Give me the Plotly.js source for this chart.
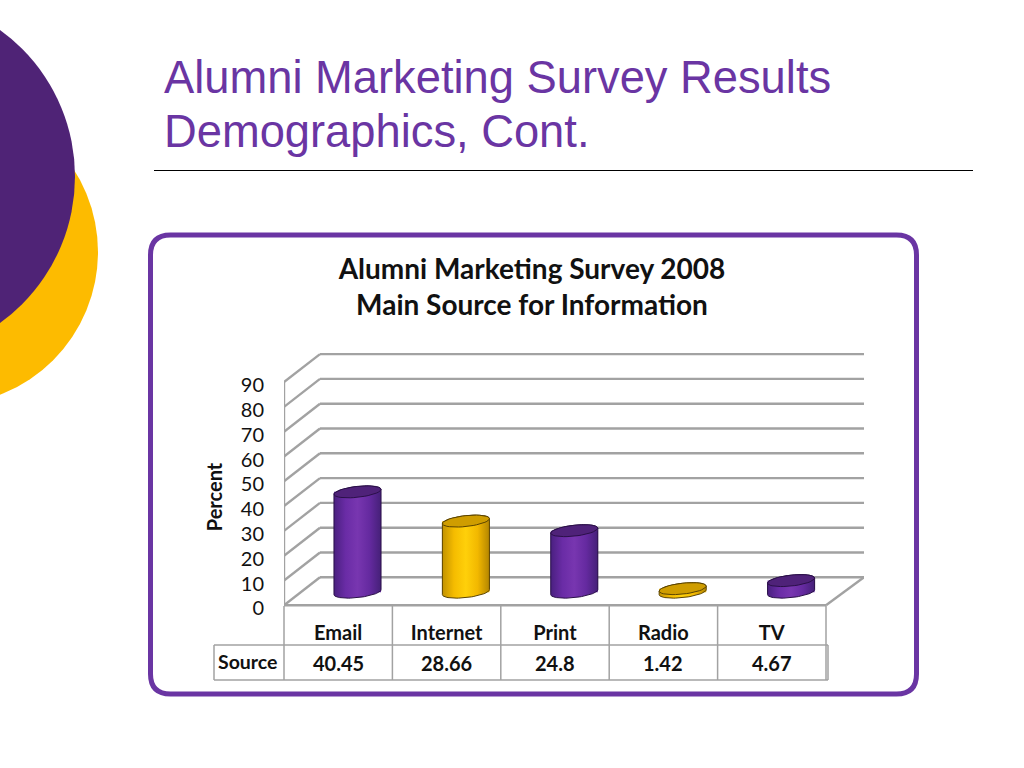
<!DOCTYPE html>
<html><head><meta charset="utf-8">
<script src="https://cdn.plot.ly/plotly-3.0.1.min.js"></script>
<style>html,body{margin:0;padding:0;background:#fff;overflow:hidden}#c{width:1024px;height:768px}</style>
</head><body><div id="c"></div>
<script>
const categories = ["Email","Internet","Print","Radio","TV"];
const values = [40.45,28.66,24.8,1.42,4.67];
const yTicks = [0,10,20,30,40,50,60,70,80,90];
const slideTitle = ["Alumni Marketing Survey Results","Demographics, Cont."];
const chartTitle = "Alumni Marketing Survey 2008<br>Main Source for Information";
const rowLabel = "Source";
const axisLabel = "Percent";

const W=1024,H=768, L=284,R=864,T=353,B=641,zeroY=605.3;
const colW=108.4, yScale=2.48;
const px=x=>(x-L)/(R-L), py=y=>(B-y)/(B-T);        // page pixel -> paper
const xMax=(R-L)/colW-0.5, yMax=(zeroY-T)/yScale, yMin=(zeroY-B)/yScale;
const depthX=36/colW, depthY=28/yScale;
const grey="#a2a2a2", violet="#6a35a3", chartFont="Lato, Carlito, sans-serif";
const barDx=0.178, barHalf=0.217, barBase=5.3, lidB=2.2, lidTilt=1.0;
const tone=["v","g","v","g","v"];
const body={v:[[0,"#4a2080"],[0.25,"#6a2ca6"],[0.5,"#7836b0"],[0.75,"#652aa0"],[1,"#452078"]],
            g:[[0,"#c29200"],[0.25,"#f5bc00"],[0.5,"#ffd00a"],[0.75,"#f2b800"],[1,"#b48600"]]};
const lid={v:"#4f2279",g:"#cf9d00"}, edge={v:"#2a1048",g:"#5a4300"}, flat={v:"#652aa0",g:"#f2b800"};

function arc(cx,cy,from,to){const xs=[],ys=[];for(let k=0;k<=40;k++){const t=from+(to-from)*k/40;
  xs.push(cx+barHalf*Math.cos(t));ys.push(cy+lidB*Math.sin(t)+lidTilt*Math.cos(t));}return [xs,ys];}

const traces=[{type:"bar",x:categories.map((_,i)=>i+barDx),y:values,base:barBase,width:barHalf*2,
  marker:{color:tone.map(t=>flat[t]),line:{width:0}},showlegend:false,hoverinfo:"skip",
  customdata:categories}];
values.forEach((v,i)=>{
  const cx=i+barDx,t=tone[i],top=barBase+v;
  const lower=arc(cx,barBase,Math.PI,2*Math.PI);
  const upper=arc(cx,top,0,Math.PI);
  traces.push({type:"scatter",mode:"lines",x:[...lower[0],...upper[0],lower[0][0]],y:[...lower[1],...upper[1],lower[1][0]],
    fill:"toself",fillgradient:{type:"horizontal",colorscale:body[t]},line:{color:edge[t],width:1},
    showlegend:false,hoverinfo:"skip"});
  const whole=arc(cx,top,0,2*Math.PI);
  traces.push({type:"scatter",mode:"lines",x:whole[0],y:whole[1],fill:"toself",fillcolor:lid[t],
    line:{color:edge[t],width:1},showlegend:false,hoverinfo:"skip"});
});

const line=(x0,y0,x1,y1,w)=>({type:"line",xref:"x",yref:"y",x0,y0,x1,y1,layer:"below",line:{color:grey,width:w||2.4}});
const pline=(x0,y0,x1,y1)=>({type:"line",xref:"paper",yref:"paper",x0:px(x0),y0:py(y0),x1:px(x1),y1:py(y1),line:{color:grey,width:1.5}});
const shapes=[];
// slide decoration
const circ=(cx,cy,r,c)=>({type:"circle",xref:"paper",yref:"paper",x0:px(cx-r),x1:px(cx+r),y0:py(cy+r),y1:py(cy-r),fillcolor:c,line:{width:0},layer:"below"});
shapes.push(circ(-55,252,153,"#fdbb00"),circ(-105.6,176.5,180.6,"#4f2376"));
shapes.push({type:"line",xref:"paper",yref:"paper",x0:px(154),x1:px(973),y0:py(170.5),y1:py(170.5),line:{color:"#000",width:1}});
const fx0=150.5,fx1=916.5,fy0=235,fy1=694,rr=20;
const P=(x,y)=>px(x)+","+py(y);
shapes.push({type:"path",xref:"paper",yref:"paper",layer:"below",line:{color:violet,width:5},
  path:`M${P(fx0+rr,fy0)} L${P(fx1-rr,fy0)} Q${P(fx1,fy0)} ${P(fx1,fy0+rr)} L${P(fx1,fy1-rr)} Q${P(fx1,fy1)} ${P(fx1-rr,fy1)} L${P(fx0+rr,fy1)} Q${P(fx0,fy1)} ${P(fx0,fy1-rr)} L${P(fx0,fy0+rr)} Q${P(fx0,fy0)} ${P(fx0+rr,fy0)} Z`});
// 3-D walls and floor
const x0=-0.5;
yTicks.forEach(v=>{
  shapes.push(line(x0+depthX,v+depthY,xMax,v+depthY));
  shapes.push(line(x0,v,x0+depthX,v+depthY));
});
shapes.push(line(x0,0,x0,90));
shapes.push(line(x0,0,4.5,0));
shapes.push(line(4.5,0,xMax,depthY));
// data table
for(let i=0;i<=5;i++){const x=L+colW*i;shapes.push(pline(x,606,x,680));}
shapes.push(pline(214,645,828,645),pline(214,680,828,680),pline(214,645,214,680),pline(828,645,828,680));

const annotations=[];
slideTitle.forEach((s,i)=>annotations.push({text:s,xref:"paper",yref:"paper",x:px(162),y:py(77+54*i),xanchor:"left",yanchor:"middle",showarrow:false,
  font:{family:"Liberation Sans, Arial, sans-serif",size:45.3,color:"#6a35a3"}}));
values.forEach((v,i)=>annotations.push({text:"<b>"+v+"</b>",xref:"x",yref:"paper",x:i,y:py(663),xanchor:"center",yanchor:"middle",showarrow:false,
  font:{family:chartFont,size:20,color:"#111"}}));
annotations.push({text:"<b>"+rowLabel+"</b>",xref:"paper",yref:"paper",x:px(247.5),y:py(661),xanchor:"center",yanchor:"middle",showarrow:false,
  font:{family:chartFont,size:19.5,color:"#111"}});

Plotly.newPlot("c",traces,{
  width:W,height:H,autosize:false,paper_bgcolor:"#fff",plot_bgcolor:"rgba(0,0,0,0)",showlegend:false,
  margin:{l:L,r:W-R,t:T,b:H-B,pad:0},barmode:"overlay",
  title:{text:"<b>"+chartTitle+"</b>",x:532/W,xanchor:"center",xref:"container",y:1-252/H,yanchor:"top",yref:"container",
    font:{family:chartFont,size:28,color:"#111"},pad:{t:27}},
  xaxis:{range:[x0,xMax],tickmode:"array",tickvals:categories.map((_,i)=>i),ticktext:categories.map(c=>"<b>"+c+"</b>"),
    showgrid:false,zeroline:false,showline:false,ticks:"",ticklabelposition:"inside",ticklabelstandoff:-6,
    tickfont:{family:chartFont,size:20,color:"#111"},fixedrange:true},
  yaxis:{range:[yMin,yMax],tickmode:"array",tickvals:yTicks,ticktext:yTicks.map(String),showgrid:false,zeroline:false,showline:false,
    ticks:"outside",ticklen:15,tickcolor:"rgba(0,0,0,0)",ticklabelshift:3,
    tickfont:{family:chartFont,size:20,color:"#111"},fixedrange:true,
    title:{text:"<b>"+axisLabel+"</b>",standoff:12,font:{family:chartFont,size:20,color:"#111"}}},
  shapes,annotations
},{displayModeBar:false,staticPlot:true});
</script></body></html>
